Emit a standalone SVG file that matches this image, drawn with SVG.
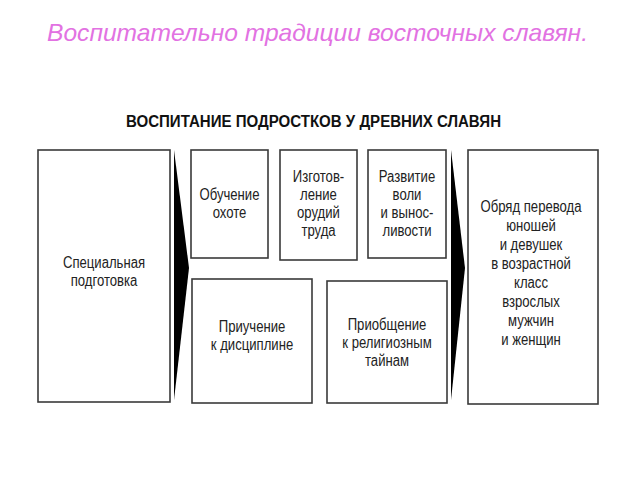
<svg xmlns="http://www.w3.org/2000/svg" width="640" height="480" viewBox="0 0 640 480">
<style>
.box{fill:#fff;stroke:#3a3a3a;stroke-width:1.6}
.t{font-family:"Liberation Sans",Arial,sans-serif;font-size:16px;fill:#222;text-anchor:middle}
.arrow{fill:#000}
</style>
<rect width="640" height="480" fill="#fff"/>
<text x="47" y="41" font-family="'Liberation Sans',Arial,sans-serif" font-style="italic" font-size="24" fill="#e272e2" textLength="541" lengthAdjust="spacingAndGlyphs">Воспитательно традиции восточных славян.</text>
<text x="313.5" y="127" font-family="'Liberation Sans',Arial,sans-serif" font-weight="bold" font-size="16" fill="#111" text-anchor="middle" textLength="375" lengthAdjust="spacingAndGlyphs">ВОСПИТАНИЕ ПОДРОСТКОВ У ДРЕВНИХ СЛАВЯН</text>
<g id="connectors">
<polygon class="arrow" points="174,150 189,268 174,400"/>
<polygon class="arrow" points="451,150 465,268 451,400"/>
</g>
<g id="n1">
<rect class="box" x="38" y="150" width="132" height="252"/>
<text class="t" transform="translate(104,268) scale(0.82,1)"><tspan x="0">Специальная</tspan><tspan x="0" dy="18">подготовка</tspan></text>
</g>
<g id="n2">
<rect class="box" x="191" y="150" width="77" height="108"/>
<text class="t" transform="translate(229.5,200) scale(0.82,1)"><tspan x="0">Обучение</tspan><tspan x="0" dy="18">охоте</tspan></text>
</g>
<g id="n3">
<rect class="box" x="280" y="150" width="77" height="110"/>
<text class="t" transform="translate(318.5,182) scale(0.82,1)"><tspan x="0">Изготов-</tspan><tspan x="0" dy="18">ление</tspan><tspan x="0" dy="18">орудий</tspan><tspan x="0" dy="18">труда</tspan></text>
</g>
<g id="n4">
<rect class="box" x="368" y="150" width="78" height="108"/>
<text class="t" transform="translate(407,182) scale(0.82,1)"><tspan x="0">Развитие</tspan><tspan x="0" dy="18">воли</tspan><tspan x="0" dy="18">и вынос-</tspan><tspan x="0" dy="18">ливости</tspan></text>
</g>
<g id="n5">
<rect class="box" x="192" y="279" width="120" height="124"/>
<text class="t" transform="translate(252,332) scale(0.82,1)"><tspan x="0">Приучение</tspan><tspan x="0" dy="18">к дисциплине</tspan></text>
</g>
<g id="n6">
<rect class="box" x="327" y="281" width="120" height="122"/>
<text class="t" transform="translate(387,330) scale(0.82,1)"><tspan x="0">Приобщение</tspan><tspan x="0" dy="18">к религиозным</tspan><tspan x="0" dy="18">тайнам</tspan></text>
</g>
<g id="n7">
<rect class="box" x="468" y="150" width="130" height="254"/>
<text class="t" transform="translate(531,212) scale(0.82,1)"><tspan x="0">Обряд перевода</tspan><tspan x="0" dy="19">юношей</tspan><tspan x="0" dy="19">и девушек</tspan><tspan x="0" dy="19">в возрастной</tspan><tspan x="0" dy="19">класс</tspan><tspan x="0" dy="19">взрослых</tspan><tspan x="0" dy="19">мужчин</tspan><tspan x="0" dy="19">и женщин</tspan></text>
</g>
</svg>
